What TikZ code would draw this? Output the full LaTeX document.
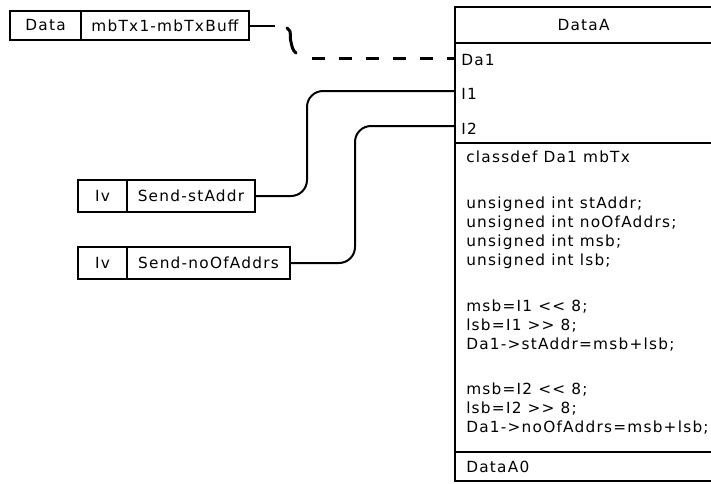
\documentclass[tikz,border=0pt]{standalone}
\usepackage{fontspec}
\setmainfont{DejaVu Sans}[LetterSpace=8]
\usetikzlibrary{positioning}

\tikzset{
  cell/.style={draw, line width=1.5pt, anchor=north west, inner sep=0pt, outer sep=0pt, minimum height=24pt},
  port/.style={anchor=west, inner sep=0pt},
  wire/.style={line width=1.5pt, rounded corners=12pt},
}

\begin{document}
\begin{tikzpicture}[x=0.75pt, y=-0.75pt, font=\fontsize{11.5}{14.25}\selectfont]
  \clip (0,0) rectangle (711,483);
  %%%%% START %%%%%
  \node[cell, minimum width=53.25pt, minimum height=21.75pt] (data) at (10,11) {Data};
  \node[cell, minimum width=126pt, minimum height=21.75pt] (buff) at (data.north east) {mbTx1-mbTxBuff};

  \node[cell, minimum width=36.75pt] (iv1) at (78,180) {Iv};
  \node[cell, minimum width=96pt] (send1) at (iv1.north east) {Send-stAddr};

  \node[cell, minimum width=36.75pt] (iv2) at (78,247) {Iv};
  \node[cell, minimum width=122.25pt] (send2) at (iv2.north east) {Send-noOfAddrs};

  % class box
  \node[cell, minimum width=192.75pt, minimum height=27pt] (head) at (455,7) {DataA};
  \node[cell, minimum width=192.75pt, minimum height=75pt] (ports) at (head.south west) {};
  \node[cell, minimum width=192.75pt, minimum height=231.75pt] (body) at (ports.south west) {};
  \node[cell, minimum width=192.75pt, minimum height=21.75pt] (foot) at (body.south west) {};

  \coordinate (da1) at (455,58);
  \coordinate (i1) at (455,91);
  \coordinate (i2) at (455,126);
  \node[port] (da1lbl) at (461,60) {Da1};
  \node[port] (i1lbl) at (461,94) {I1};
  \node[port] (i2lbl) at (461,129) {I2};

  \node[anchor=north west, align=left, inner sep=0pt] (code) at (466,151) {classdef Da1 mbTx\\[20pt]
    unsigned int stAddr;\\
    unsigned int noOfAddrs;\\
    unsigned int msb;\\
    unsigned int lsb;\\[20pt]
    msb=I1 <{}< 8;\\
    lsb=I1 >{}> 8;\\
    Da1->stAddr=msb+lsb;\\[20pt]
    msb=I2 <{}< 8;\\
    lsb=I2 >{}> 8;\\
    Da1->noOfAddrs=msb+lsb;};
  \node[port] (footlbl) at (466,467) {DataA0};

  % links
  \coordinate (brk) at (312,58);
  \draw[line width=1.5pt] (buff.east) -- ++(26,0);
  \draw[line width=2.25pt, line cap=round] (287,28) .. controls (293,31) and (289,39) .. (291,42) .. controls (292,47) and (293,51) .. (296,53);
  \draw[line width=2.25pt, dash pattern=on 9.75pt off 10.5pt] (brk) -- (da1);
  \draw[wire] (send1.east) -- ++(52,0) |- (i1);
  \draw[wire] (send2.east) -- ++(65,0) |- (i2);
  %%%%% END %%%%%
\end{tikzpicture}
\end{document}
